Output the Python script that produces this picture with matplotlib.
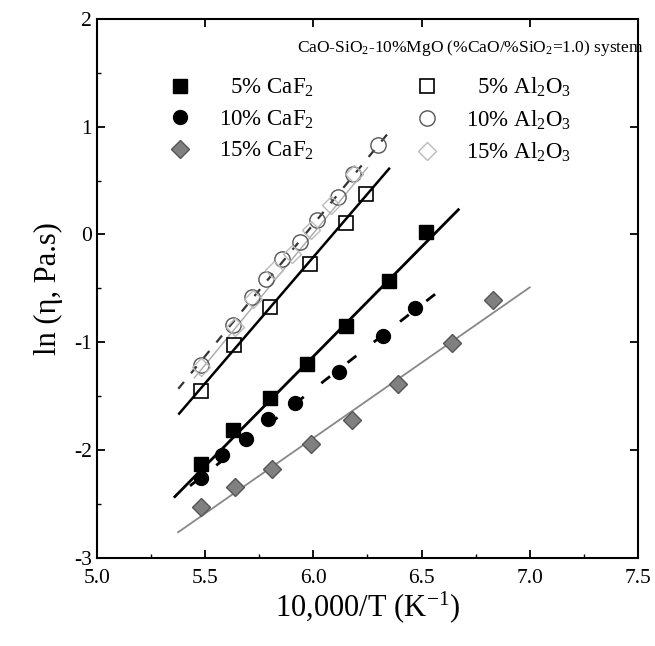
# Viskositaet CaO-SiO2-MgO Schlacken, ln(eta) gegen 10000/T

import matplotlib
matplotlib.use("Agg")
import matplotlib.pyplot as plt
from matplotlib.ticker import MultipleLocator

plt.rcParams['font.family'] = ['Liberation Serif', 'DejaVu Serif']
plt.rcParams['mathtext.fontset'] = 'custom'
plt.rcParams['mathtext.rm'] = 'Liberation Serif'

x_caf5 = [5.48, 5.63, 5.80, 5.97, 6.15, 6.35, 6.52]
y_caf5 = [-2.13, -1.81, -1.52, -1.20, -0.85, -0.43, 0.02]
x_caf10 = [5.48, 5.58, 5.69, 5.79, 5.915, 6.12, 6.32, 6.47]
y_caf10 = [-2.26, -2.04, -1.90, -1.71, -1.56, -1.27, -0.94, -0.68]
x_caf15 = [5.48, 5.64, 5.81, 5.99, 6.18, 6.39, 6.64, 6.83]
y_caf15 = [-2.53, -2.34, -2.17, -1.94, -1.72, -1.39, -1.01, -0.61]
x_al5 = [5.48, 5.635, 5.80, 5.985, 6.15, 6.245]
y_al5 = [-1.45, -1.02, -0.67, -0.27, 0.11, 0.38]
x_al10 = [5.48, 5.63, 5.715, 5.78, 5.855, 5.94, 6.015, 6.115, 6.185, 6.30]
y_al10 = [-1.21, -0.84, -0.58, -0.41, -0.23, -0.07, 0.13, 0.35, 0.56, 0.83]
x_al15 = [5.48, 5.64, 5.72, 5.82, 5.90, 5.99, 6.08, 6.19]
y_al15 = [-1.23, -0.86, -0.60, -0.33, -0.18, 0.04, 0.27, 0.56]

# Ausgleichsgeraden (Endpunkte)
fit_caf5 = ([5.36, 6.67], [-2.43, 0.23])
fit_caf10 = ([5.43, 6.59], [-2.33, -0.51])
fit_caf15 = ([5.375, 7.0], [-2.76, -0.49])
fit_al5 = ([5.38, 6.35], [-1.66, 0.61])
fit_al10 = ([5.376, 6.35], [-1.43, 0.95])
fit_al15 = ([5.45, 6.25], [-1.33, 0.62])

xticks = [5.0, 5.5, 6.0, 6.5, 7.0, 7.5]
yticks = [-3, -2, -1, 0, 1, 2]

titel = r'CaO-SiO$\mathregular{_2}$-10%MgO (%CaO/%SiO$\mathregular{_2}$=1.0) system'
caf = r'% CaF$\mathregular{_2}$'
al = r'% Al$\mathregular{_2}$O$\mathregular{_3}$'

fig = plt.figure(figsize=(6.55, 6.46), dpi=100)
ax = fig.add_axes([0.148, 0.136, 0.826, 0.835])

# Geraden
ax.plot(*fit_caf5, color='black', lw=2.0)
ax.plot(*fit_caf10, color='black', lw=2.0, dashes=(4, 8))
ax.plot(*fit_caf15, color='#888888', lw=1.3)
ax.plot(*fit_al5, color='black', lw=1.8)
ax.plot(*fit_al10, color='#333333', lw=1.6, dashes=(4, 5))
ax.plot(*fit_al15, color='#aaaaaa', lw=1.0)

# Punkte ("  " vor 5% damit die Beschriftung rechtsbuendig wirkt)
ax.plot(x_caf5, y_caf5, 's', color='black', ms=10, ls='none', label='  5' + caf)
ax.plot(x_caf10, y_caf10, 'o', color='black', ms=10, ls='none', label='10' + caf)
ax.plot(x_caf15, y_caf15, 'D', mfc='#808080', mec='#555555', ms=9, ls='none', label='15' + caf)
ax.plot(x_al5, y_al5, 's', mfc='none', mec='black', mew=1.2, ms=10, ls='none', label='  5' + al)
ax.plot(x_al10, y_al10, 'o', mfc='none', mec='#555555', mew=1.0, ms=11, ls='none', label='10' + al)
ax.plot(x_al15, y_al15, 'D', mfc='none', mec='#bbbbbb', mew=1.0, ms=9, ls='none', label='15' + al)

ax.set_xlim(5.0, 7.5)
ax.set_ylim(-3, 2)
ax.set_xticks(xticks)
ax.set_yticks(yticks)
ax.set_xticklabels([f'{v:.1f}' for v in xticks], fontsize=15.5)
ax.set_yticklabels([str(v) for v in yticks], fontsize=15.5)
ax.xaxis.set_minor_locator(MultipleLocator(0.25))
ax.yaxis.set_minor_locator(MultipleLocator(0.5))
ax.tick_params(which='major', direction='in', length=6, width=1.3, top=True, right=True)
ax.tick_params(axis='x', which='major', pad=8)
ax.tick_params(which='minor', direction='in', length=3, width=1.0)
for s in ax.spines.values():
    s.set_linewidth(1.5)

ax.set_xlabel(r'10,000/T (K$\mathregular{^{-1}}$)', fontsize=22, labelpad=1)
ax.set_ylabel(u'ln (\u03b7, Pa.s)', fontsize=22, labelpad=8)

# Titel der Legende separat
ax.text(0.37, 0.946, titel, transform=ax.transAxes, fontsize=12.5, ha='left', va='center')

leg = ax.legend(ncol=2, frameon=False, fontsize=16.5, loc='upper left',
                bbox_to_anchor=(0.133, 0.894), borderaxespad=0, borderpad=0,
                handlelength=1.0, handletextpad=1.2, columnspacing=4.4,
                labelspacing=0.4)

fig.savefig('out.png', dpi=100)
